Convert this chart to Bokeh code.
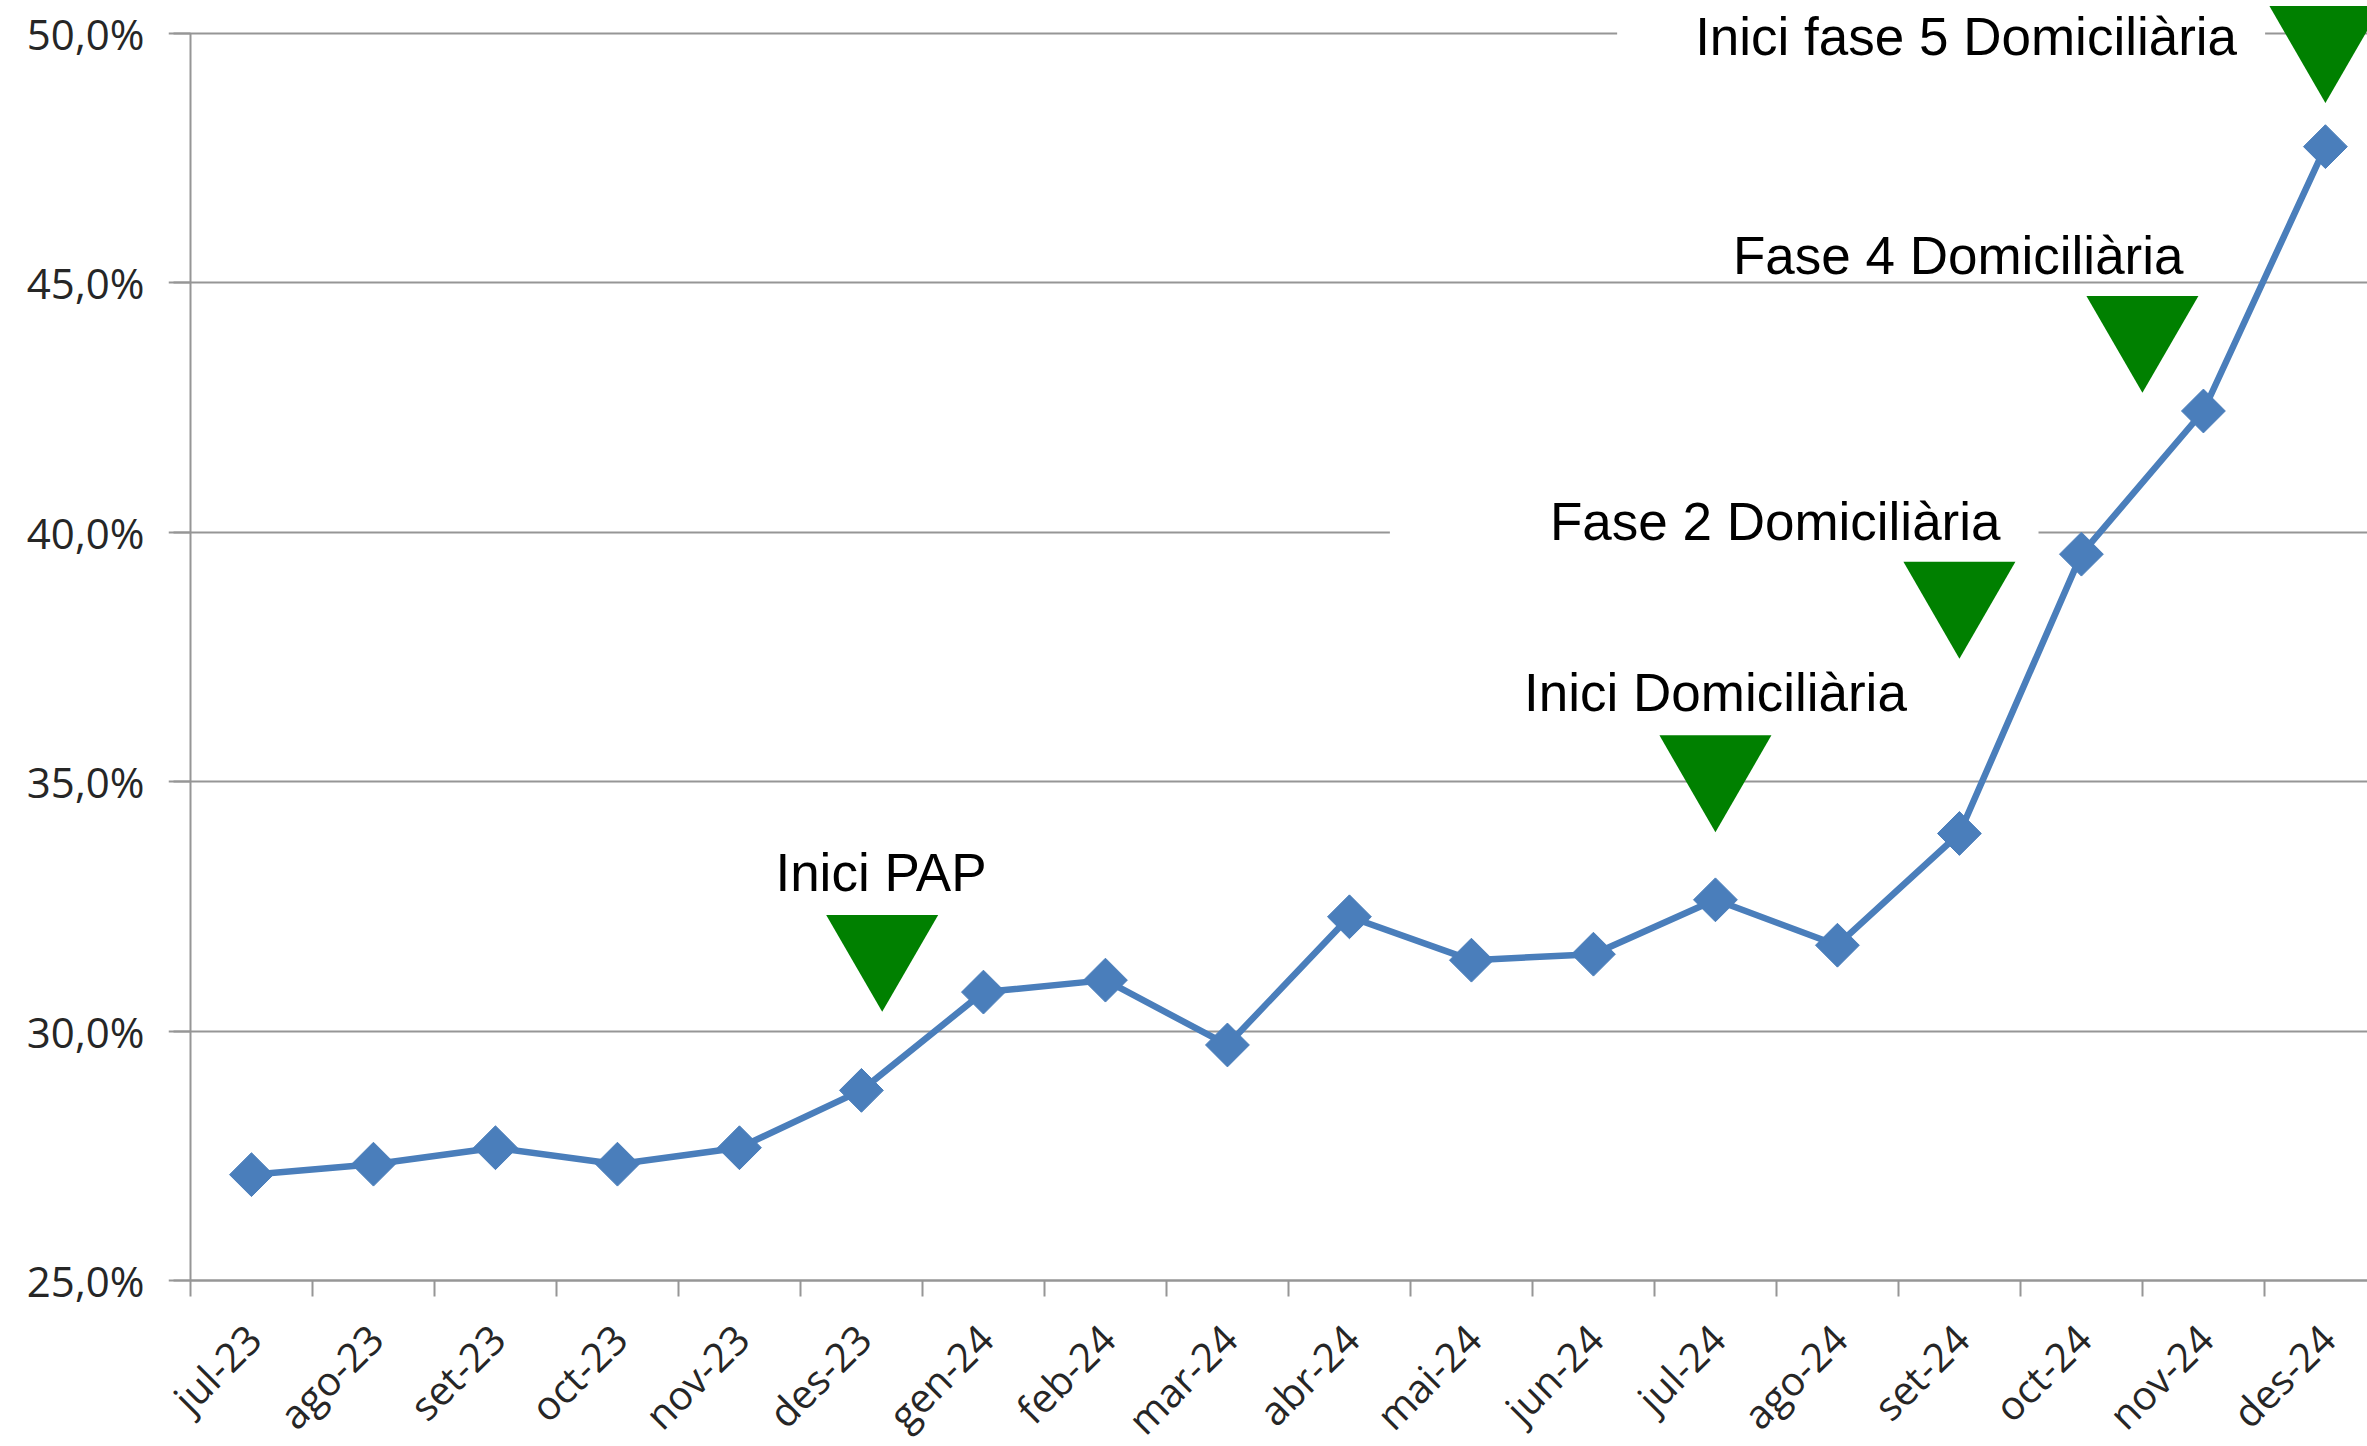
import math
from bokeh.plotting import figure
from bokeh.models import Range1d, FixedTicker, Label, LabelSet, ColumnDataSource, LinearAxis
from bokeh.embed import file_html
from bokeh.resources import INLINE
from bokeh.core.properties import value

months = ["jul-23", "ago-23", "set-23", "oct-23", "nov-23", "des-23",
          "gen-24", "feb-24", "mar-24", "abr-24", "mai-24", "jun-24",
          "jul-24", "ago-24", "set-24", "oct-24", "nov-24", "des-24"]
rates = [27.12, 27.33, 27.66, 27.33, 27.66, 28.81,
         30.78, 31.02, 29.72, 32.29, 31.42, 31.54,
         32.63, 31.72, 33.96, 39.56, 42.43, 47.73]

y_ticks = [25, 30, 35, 40, 45, 50]
y_tick_labels = ["25,0%", "30,0%", "35,0%", "40,0%", "45,0%", "50,0%"]

event_labels = ["Inici PAP", "Inici Domiciliària", "Fase 2 Domiciliària",
                "Fase 4 Domiciliària", "Inici fase 5 Domiciliària"]
event_marker_x = [5.17, 12.0, 14.0, 15.5, 17.0]
event_marker_y = [31.68, 35.28, 38.76, 44.09, 49.90]
event_text_x = [5.16, 12.0, 11.99, 13.99, 13.85]
event_text_y = [33.18, 36.79, 40.21, 45.54, 49.94]

idx = list(range(len(months)))
y_base = min(y_ticks)
y_top = max(y_ticks)
x_edge = -0.5

GRID = "#969696"
BLUE = "#4a7ebb"
GREEN = "#008000"
AX_FONT = "Open Sans"
AX_COLOR = "#262626"

p = figure(width=2367, height=1446,
           x_range=Range1d(-0.680, 17.345), y_range=Range1d(21.67, 50.66),
           output_backend="svg", toolbar_location=None,
           min_border_left=168, min_border_right=0,
           min_border_top=0, min_border_bottom=0)
p.outline_line_color = None
p.background_fill_color = "white"

p.xgrid.visible = False
p.ygrid.ticker = FixedTicker(ticks=y_ticks)
p.ygrid.grid_line_color = GRID
p.ygrid.grid_line_width = 2

# y axis labels (left panel)
main_y = p.yaxis[0]
main_y.ticker = FixedTicker(ticks=y_ticks)
main_y.major_label_overrides = {t: l for t, l in zip(y_ticks, y_tick_labels)}
main_y.axis_line_color = None
main_y.major_tick_line_color = None
main_y.minor_tick_line_color = None
main_y.major_tick_out = 0
main_y.major_tick_in = 0
main_y.minor_tick_out = 0
main_y.minor_tick_in = 0
main_y.major_label_standoff = 24
main_y.major_label_text_font = AX_FONT
main_y.major_label_text_font_size = "42px"
main_y.major_label_text_color = AX_COLOR

# y axis line + ticks at the left category boundary
edge_axis = LinearAxis(fixed_location=x_edge,
                       ticker=FixedTicker(ticks=[], minor_ticks=y_ticks),
                       bounds=(y_base, y_top),
                       axis_line_color=GRID, axis_line_width=2,
                       major_tick_line_color=None, major_tick_out=0, major_tick_in=0,
                       minor_tick_out=17, minor_tick_in=0,
                       minor_tick_line_color=GRID, minor_tick_line_width=2,
                       major_label_standoff=0)
p.add_layout(edge_axis, "left")

# x axis at the 25% baseline: tick marks at category boundaries
p.xaxis.fixed_location = y_base
p.xaxis.bounds = (x_edge, 17.345)
p.xaxis.ticker = FixedTicker(ticks=[], minor_ticks=[i - 0.5 for i in range(len(months) + 1)])
p.xaxis.major_tick_line_color = None
p.xaxis.major_tick_out = 0
p.xaxis.major_tick_in = 0
p.xaxis.major_label_standoff = 0
p.xaxis.minor_tick_out = 16
p.xaxis.minor_tick_in = 0
p.xaxis.minor_tick_line_color = GRID
p.xaxis.minor_tick_line_width = 2
p.xaxis.axis_line_color = GRID
p.xaxis.axis_line_width = 2

month_src = ColumnDataSource(dict(x=idx, y=[y_base] * len(months), text=months))
p.add_layout(LabelSet(x="x", y="y", text="text", source=month_src,
                      angle=math.pi / 4, text_align="right", text_baseline="middle",
                      x_offset=2, y_offset=-51,
                      text_font=value(AX_FONT), text_font_size=value("40px"),
                      text_color=AX_COLOR))

# series
p.line(idx, rates, line_color=BLUE, line_width=6.5)
p.scatter(idx, rates, marker="square", size=31, angle=math.pi / 4,
          fill_color=BLUE, line_color=BLUE)

# event markers
p.scatter(event_marker_x, event_marker_y, marker="inverted_triangle", size=112,
          fill_color=GREEN, line_color=None)

pads = [None, None, dict(left=160, right=38, top=8, bottom=8), None,
        dict(left=78, right=28, top=8, bottom=8)]
for lab, tx, ty, pad in zip(event_labels, event_text_x, event_text_y, pads):
    kw = dict(x=tx, y=ty, text=lab, text_align="center", text_baseline="middle",
              text_font="Liberation Sans", text_font_size="53px", text_color="black")
    if pad is not None:
        kw.update(background_fill_color="white", padding=pad)
    p.add_layout(Label(**kw))

open("out.html", "w").write(file_html(p, INLINE))
